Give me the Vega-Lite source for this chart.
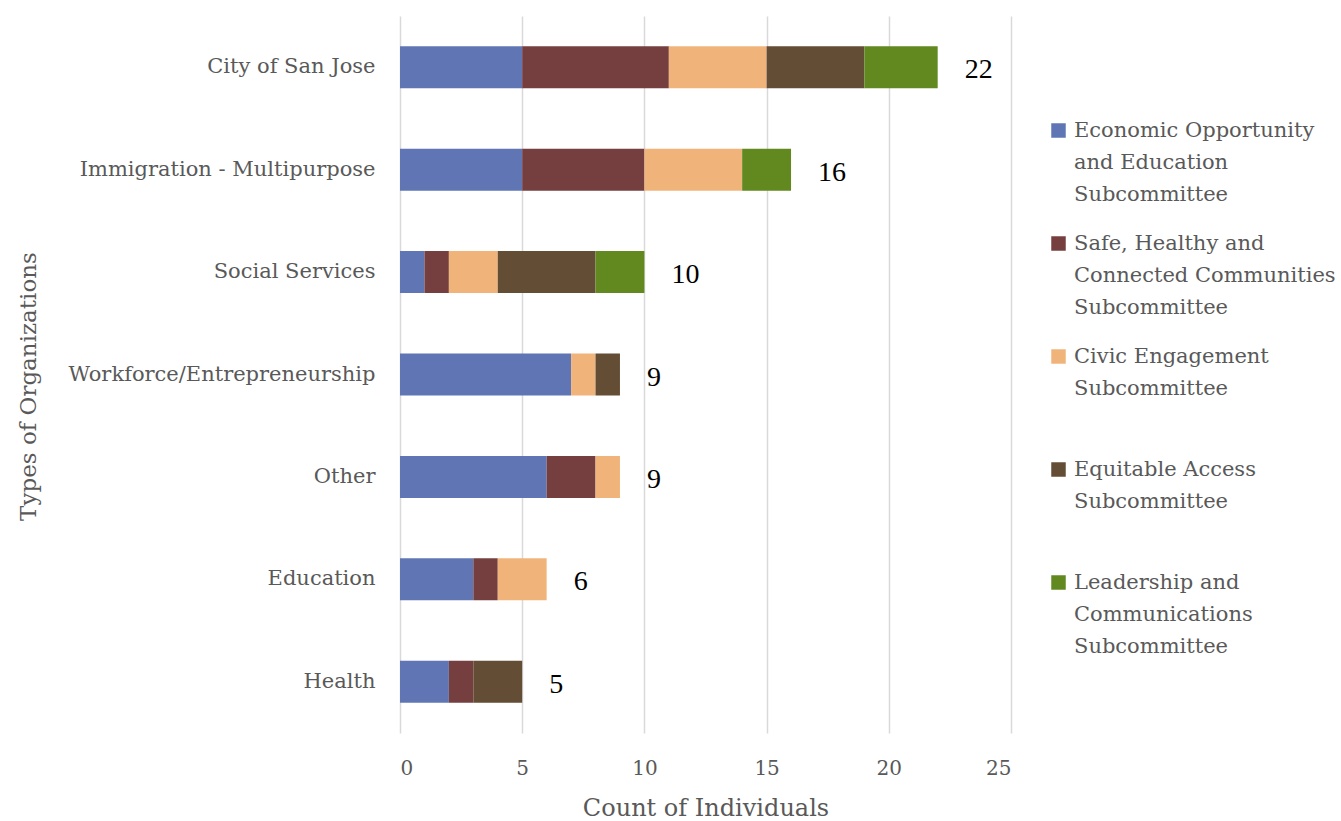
{
  "$schema": "https://vega.github.io/schema/vega-lite/v6.json",
  "width": 611,
  "height": 717,
  "padding": {"left": 16, "top": 16, "right": 0, "bottom": 0},
  "background": "white",
  "config": {
    "view": {"stroke": null},
    "font": "DejaVu Serif",
    "style": {"guide-label": {"lineHeight": 32}}
  },
  "data": {
    "values": [
      {"org": "City of San Jose", "sub": "Economic Opportunity|and Education|Subcommittee", "k": 1, "n": 5},
      {"org": "City of San Jose", "sub": "Safe, Healthy and|Connected Communities|Subcommittee", "k": 2, "n": 6},
      {"org": "City of San Jose", "sub": "Civic Engagement|Subcommittee| ", "k": 3, "n": 4},
      {"org": "City of San Jose", "sub": "Equitable Access|Subcommittee| ", "k": 4, "n": 4},
      {"org": "City of San Jose", "sub": "Leadership and|Communications|Subcommittee", "k": 5, "n": 3},
      {"org": "Immigration - Multipurpose", "sub": "Economic Opportunity|and Education|Subcommittee", "k": 1, "n": 5},
      {"org": "Immigration - Multipurpose", "sub": "Safe, Healthy and|Connected Communities|Subcommittee", "k": 2, "n": 5},
      {"org": "Immigration - Multipurpose", "sub": "Civic Engagement|Subcommittee| ", "k": 3, "n": 4},
      {"org": "Immigration - Multipurpose", "sub": "Leadership and|Communications|Subcommittee", "k": 5, "n": 2},
      {"org": "Social Services", "sub": "Economic Opportunity|and Education|Subcommittee", "k": 1, "n": 1},
      {"org": "Social Services", "sub": "Safe, Healthy and|Connected Communities|Subcommittee", "k": 2, "n": 1},
      {"org": "Social Services", "sub": "Civic Engagement|Subcommittee| ", "k": 3, "n": 2},
      {"org": "Social Services", "sub": "Equitable Access|Subcommittee| ", "k": 4, "n": 4},
      {"org": "Social Services", "sub": "Leadership and|Communications|Subcommittee", "k": 5, "n": 2},
      {"org": "Workforce/Entrepreneurship", "sub": "Economic Opportunity|and Education|Subcommittee", "k": 1, "n": 7},
      {"org": "Workforce/Entrepreneurship", "sub": "Civic Engagement|Subcommittee| ", "k": 3, "n": 1},
      {"org": "Workforce/Entrepreneurship", "sub": "Equitable Access|Subcommittee| ", "k": 4, "n": 1},
      {"org": "Other", "sub": "Economic Opportunity|and Education|Subcommittee", "k": 1, "n": 6},
      {"org": "Other", "sub": "Safe, Healthy and|Connected Communities|Subcommittee", "k": 2, "n": 2},
      {"org": "Other", "sub": "Civic Engagement|Subcommittee| ", "k": 3, "n": 1},
      {"org": "Education", "sub": "Economic Opportunity|and Education|Subcommittee", "k": 1, "n": 3},
      {"org": "Education", "sub": "Safe, Healthy and|Connected Communities|Subcommittee", "k": 2, "n": 1},
      {"org": "Education", "sub": "Civic Engagement|Subcommittee| ", "k": 3, "n": 2},
      {"org": "Health", "sub": "Economic Opportunity|and Education|Subcommittee", "k": 1, "n": 2},
      {"org": "Health", "sub": "Safe, Healthy and|Connected Communities|Subcommittee", "k": 2, "n": 1},
      {"org": "Health", "sub": "Equitable Access|Subcommittee| ", "k": 4, "n": 2}
    ]
  },
  "encoding": {
    "y": {
      "field": "org",
      "type": "nominal",
      "sort": ["City of San Jose", "Immigration - Multipurpose", "Social Services", "Workforce/Entrepreneurship", "Other", "Education", "Health"],
      "scale": {"paddingInner": 0.59, "paddingOuter": 0.295},
      "axis": {
        "title": "Types of Organizations",
        "titleFont": "DejaVu Serif",
        "titleFontSize": 23,
        "titleFontWeight": "normal",
        "titleColor": "#595959",
        "titleX": -372,
        "titleY": 370,
        "titleAngle": -90,
        "titleBaseline": "middle",
        "labelFont": "DejaVu Serif",
        "labelFontSize": 21,
        "labelColor": "#595959",
        "labelLimit": 400,
        "labelPadding": 25,
        "ticks": false,
        "domain": false,
        "grid": false
      }
    }
  },
  "layer": [
    {
      "mark": {"type": "bar"},
      "encoding": {
        "x": {
          "field": "n",
          "type": "quantitative",
          "aggregate": "sum",
          "stack": "zero",
          "scale": {"domain": [0, 25], "nice": false},
          "axis": {
            "title": "Count of Individuals",
            "titleFont": "DejaVu Serif",
            "titleFontSize": 24,
            "titleFontWeight": "normal",
            "titleColor": "#595959",
            "titlePadding": 18,
            "values": [0, 5, 10, 15, 20, 25],
            "labelFont": "DejaVu Serif",
            "labelFontSize": 20,
            "labelColor": "#595959",
            "labelPadding": 25,
            "ticks": false,
            "domain": false,
            "grid": true,
            "gridColor": "#D9D9D9",
            "gridWidth": 1.5
          }
        },
        "color": {
          "field": "sub",
          "type": "nominal",
          "scale": {
            "domain": ["Economic Opportunity|and Education|Subcommittee", "Safe, Healthy and|Connected Communities|Subcommittee", "Civic Engagement|Subcommittee| ", "Equitable Access|Subcommittee| ", "Leadership and|Communications|Subcommittee"],
            "range": ["#6076B4", "#763F3F", "#F0B47B", "#634D34", "#61891F"]
          },
          "legend": {
            "title": null,
            "orient": "none",
            "legendX": 648,
            "legendY": 104,
            "symbolType": "square",
            "symbolSize": 210,
            "symbolStrokeWidth": 0,
            "symbolOpacity": 1,
            "labelExpr": "split(datum.label, '|')",
            "labelFont": "DejaVu Serif",
            "labelFontSize": 21,
            "labelColor": "#595959",
            "labelLimit": 400,
            "labelOffset": 5,
            "labelBaseline": "middle",
            "rowPadding": 27
          }
        },
        "order": {"field": "k", "type": "quantitative"}
      }
    },
    {
      "transform": [
        {"aggregate": [{"op": "sum", "field": "n", "as": "total"}], "groupby": ["org"]}
      ],
      "mark": {"type": "text", "align": "left", "baseline": "middle", "dx": 27, "dy": 3, "font": "Liberation Serif", "fontSize": 28, "color": "black"},
      "encoding": {
        "x": {"field": "total", "type": "quantitative"},
        "text": {"field": "total", "type": "quantitative"}
      }
    }
  ]
}
